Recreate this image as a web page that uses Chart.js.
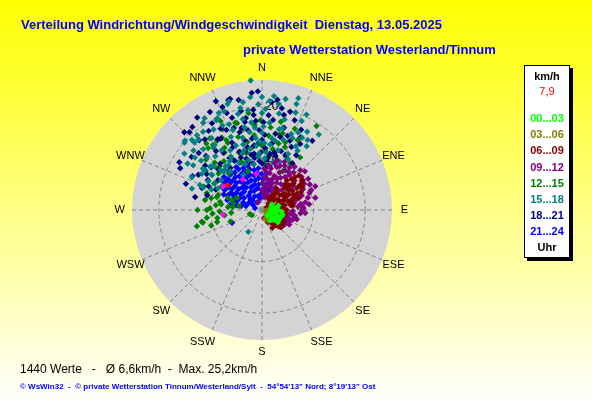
<!DOCTYPE html>
<html>
<head>
<meta charset="utf-8">
<title>Verteilung Windrichtung/Windgeschwindigkeit</title>
<script src="https://cdn.jsdelivr.net/npm/chart.js@4.4.1/dist/chart.umd.min.js"></script>
<style>
  html, body { margin: 0; padding: 0; }
  body { width: 592px; height: 407px; overflow: hidden; font-family: 'Liberation Sans', Arial, sans-serif; }
  #wrap { position: relative; width: 592px; height: 407px; background: linear-gradient(#ffff00, #ffffff); }
  #chart { position: absolute; left: 0; top: 0; }
  .txt { position: absolute; white-space: pre; line-height: 15px; }
  .title { font-size: 13px; font-weight: bold; color: #0000ff; }
  #legend { position: absolute; left: 524px; top: 65px; width: 44px; height: 191px; background: #fff;
            border: 1px solid #000; box-shadow: 3px 3px 0 #000; }
  #legend div { position: absolute; left: 0; width: 44px; text-align: center; font-size: 11px; line-height: 14px; font-weight: bold; }
  #foot1 { left: 20px; top: 362px; font-size: 12px; color: #000; }
  #foot2 { left: 20px; top: 379px; font-size: 8px; font-weight: bold; color: #0000ff; }
</style>
</head>
<body>
<div id="wrap">
  <canvas id="chart" width="592" height="407"></canvas>
  <div class="txt title" style="left:21px; top:17px;">Verteilung Windrichtung/Windgeschwindigkeit  Dienstag, 13.05.2025</div>
  <div class="txt title" style="left:243px; top:42px;">private Wetterstation Westerland/Tinnum</div>
  <div id="legend"></div>
  <div class="txt" id="foot1">1440 Werte   -   Ø 6,6km/h  -  Max. 25,2km/h</div>
  <div class="txt" id="foot2">© WsWin32  -  © private Wetterstation Tinnum/Westerland/Sylt  -  54°54'13" Nord; 8°19'13" Ost</div>
</div>
<script>
// compass and speed scale
var compassLabels = ['N', 'NNE', 'NE', 'ENE', 'E', 'ESE', 'SE', 'SSE',
                     'S', 'SSW', 'SW', 'WSW', 'W', 'WNW', 'NW', 'NNW'];
var ringValues = [10, 20];
var maxSpeed = 25.2;
var currentSpeed = '7,9';

// hour groups (legend), values are [direction in degrees, speed in km/h]
var hourGroups = ['00...03', '03...06', '06...09', '09...12', '12...15', '15...18', '18...21', '21...24'];
var groupColors = ['#00ff00', '#808000', '#800000', '#800080', '#008000', '#008080', '#000080', '#0000ff'];

var wind0003 = [[102,4.1],[119,3.8],[104,1.6],[81,2.5],[90,3.1],[125,2.4],[75,3.3],[95,3.8],[110,3.3],[130,3.0],
  [85,1.8],[115,2.0],[100,2.6],[135,1.5],[70,2.0],[128,3.9],[108,4.0],[92,2.0],[118,3.0],[80,3.0],[140,2.6],[60,2.2]];

var wind0306 = [[120,1.0],[140,1.3],[100,0.8],[160,1.8],[110,1.6],[130,2.0],[90,1.2],[150,2.4]];

var wind0609 = [[45,1.8],[60,1.0],[40,3.5],[50,4.5],[55,5.5],[45,6.2],[58,7.0],[40,7.5],[50,8.0],[65,8.3],
  [45,9.0],[55,9.5],[62,5.2],[42,6.8],[53,9.7],[58,8.0],[48,2.6],[55,3.6],[52,6.4],[60,6.0],
  [66,7.3],[48,7.2],[44,8.3],[62,3.8],[57,8.7],[47,9.8],[65,4.6],[50,3.0],[53,5.0],[60,9.0],
  [100,1.2],[140,1.5],[80,2.0],[115,2.2],[135,2.6],[95,3.0],[120,3.3],[140,3.6],[75,3.8],[105,4.0],
  [125,4.3],[90,4.8],[110,3.0],[70,3.2],[88,1.8],[128,4.0],[118,4.8],[145,3.0],[150,4.0],[135,4.5],
  [75,4.2],[128,5.0],[133,4.8],[85,4.0],[68,2.3],[78,4.5],[85,3.4],[92,2.5],[98,3.8],[105,2.9],
  [112,4.2],[122,2.8],[132,3.6],[142,2.2],[155,2.6],[165,1.6],[110,1.2],[100,4.6],[138,4.0],[72,5.3],
  [80,5.6],[70,6.5],[75,6.0],[35,3.2],[38,4.2],[35,5.0],[30,2.5],[72,7.5],[82,6.0],[64,6.8]];

var wind0912 = [[66,11.3],[75,9.2],[44,10.7],[37,10.5],[30,8.9],[126,2.6],[120,4.7],[85,7.0],[54,9.8],[3,3.3],
  [11,5.9],[12,7.3],[19,8.8],[333,1.7],[0,3.9],[25,10.3],[20,7.0],[15,5.0],[8,4.5],[5,6.5],
  [28,6.0],[35,7.8],[48,8.5],[60,9.0],[70,8.2],[80,8.5],[95,7.5],[100,6.5],[110,5.8],[105,7.0],
  [90,7.8],[62,10.5],[50,10.0],[40,9.5],[30,5.0],[22,3.0],[10,2.5],[50,3.0],[40,4.8],[55,6.8],
  [65,7.5],[25,8.0],[15,9.5],[8,8.8],[3,8.0],[118,6.0],[130,3.8],[98,4.5],[72,5.8],[45,5.5],
  [18,6.2],[24,4.6],[33,3.8],[42,6.5],[52,7.6],[57,5.0],[63,8.9],[68,10.3],[73,7.0],[78,6.3],
  [83,9.2],[88,8.0],[92,6.0],[97,5.5],[103,6.6],[108,6.2],[113,4.8],[116,5.6],[123,5.2],[127,4.4],
  [132,5.0],[48,11.2],[56,10.8],[35,9.0],[27,9.6],[22,9.2],[17,10.0],[12,8.2],[6,7.5],[2,5.3],
  [8,6.1],[14,3.6],[36,6.2],[47,7.0],[58,9.6],[70,9.8],[77,10.6],[86,8.0],[100,6.2],[68,6.6],
  [30,7.2],[33,9.8],[26,6.8],[20,5.4],[38,8.6],[29,4.2],[94,8.4],[106,5.2],[81,7.6],[122,4.0]];

var wind1215 = [[259,11.9],[262,10.8],[272,10.1],[286,9.1],[275,6.6],[284,5.8],[296,5.4],[262,7.3],[243,2.2],[107,3.2],
  [255,9.0],[268,8.2],[278,8.0],[265,6.0],[250,6.5],[290,7.0],[280,4.5],[270,12.5],[256,13.0],[300,9.0],
  [280,11.2],[287,11.2],[289,9.0],[281,8.3],[288,6.1],[276,5.7],[258,11.7],[270,10.7],[252,2.5],
  [327,16.0],[33,19.4],[15,15.4],[355,16.5],[344,17.5],[333,15.2],[323,15.8],[327,13.3],[330,11.2],[356,10.7],
  [17,10.1],[31,10.6],[343,17.7],[324,17.2],[338,12.0],[348,13.5],[0,12.5],[5,14.5],[10,12.0],[20,13.0],
  [22,17.0],[352,19.0],[335,19.0],[315,13.0],[310,11.0],[318,9.5],[345,11.5],[3,9.0],[340,8.0],[12,17.5],
  [28,8.5],[322,12.0],[13,15.0],[19,13.9],[3,11.6],[331,16.0],[333,14.6],[319,15.9],[313,11.9],
  [299,10.6],[305,13.3],[312,14.6],[316,11.8],[320,16.8],[329,14.1],[334,17.4],[337,10.1],[342,14.9],[347,16.1],
  [351,12.3],[354,14.6],[359,17.4],[6,16.1],[8,10.6],[14,13.3],[24,11.4],[27,15.2],[36,12.6],[292,12.1],
  [283,10.1],[276,9.0],[266,9.6],[260,8.8],[253,10.3]];

var wind1518 = [[355,25.2],[0,21.9],[350,21.2],[339,20.5],[348,20.2],[0,18.8],[334,19.8],[335,18.1],[319,19.2],[311,19.9],
  [318,18.4],[333,19.5],[6,22.2],[18,22.8],[19,20.0],[33,16.2],[23,15.1],[30,17.5],[322,15.3],[314,14.8],
  [310,13.1],[292,13.0],[212,5.0],[355,16.0],[355,14.0],[355,12.5],[357,11.0],[0,15.0],[2,13.0],[5,17.0],
  [10,19.0],[12,16.0],[8,14.0],[15,12.0],[25,12.0],[28,14.0],[340,16.5],[345,14.5],[343,12.0],[338,13.5],
  [330,12.0],[326,14.0],[325,17.0],[320,11.0],[315,10.5],[305,12.0],[300,10.5],[295,15.0],[302,17.0],[308,16.5],
  [345,10.0],[350,9.0],[340,9.5],[20,10.0],[13,9.5],[3,10.0],[348,18.0],[352,19.5],[358,20.5],[328,21.0],
  [323,19.0],[343,22.0],[315,18.5],[314,11.2],[305,11.8],[305,13.5],[332,7.7],[18,21.6],[12,22.0],[25,20.4],
  [25,16.6],[29,16.0],[14,16.4],[348,16.4],[315,19.2],[305,14.0],[291,12.3],[323,10.9],
  [296,9.5],[301,13.6],[306,9.8],[309,15.2],[312,12.7],[316,16.4],[319,13.8],[321,9.7],[324,15.6],[327,11.4],
  [329,18.2],[332,13.1],[334,10.3],[337,15.4],[339,17.8],[341,11.6],[344,13.2],[346,19.2],[349,12.1],[351,15.3],
  [353,17.1],[356,10.4],[358,13.3],[1,16.2],[2,19.6],[4,11.2],[7,12.8],[9,20.8],[11,13.6],[14,18.1],
  [17,14.2],[21,15.8],[24,18.9],[27,11.1],[31,13.4],[35,15.1],[37,18.3],[298,11.8],[303,15.9],[311,17.6],
  [317,10.6],[336,20.6],[354,22.0],[4,21.2],[342,21.6],[326,20.4],[312,20.1],[306,18.6],[292,10.6],[287,14.2]];

var wind1821 = [[355,22.8],[344,22.4],[348,21.8],[339,21.4],[332,21.5],[355,19.5],[355,18.5],[342,18.8],[350,18.1],[330,19.4],
  [346,16.4],[317,20.6],[318,18.2],[281,13.2],[290,12.4],[299,12.0],[343,22.3],[11,20.1],[13,18.9],[14,14.6],
  [25,13.5],[7,17.6],[0,13.6],[349,17.4],[344,15.7],[335,13.4],[5,21.0],[15,16.5],[20,18.5],[28,16.0],
  [3,12.0],[358,15.5],[352,14.0],[347,12.5],[338,11.0],[330,16.0],[326,18.5],[322,14.5],[312,16.5],[308,14.0],
  [303,12.8],[296,15.0],[300,18.5],[320,21.0],[336,17.0],[352,11.0],[357,9.5],[8,11.0],[18,12.0],[32,12.5],
  [10,15.0],[285,11.0],[294,9.8],[313,11.5],[340,20.0],[1,17.0],[22,14.5],[0,9.0],[5,8.2],[10,8.6],
  [345,9.6],[352,10.2],[15,9.4],
  [294,11.3],[299,14.1],[304,10.3],[307,17.1],[310,12.9],[314,15.1],[318,12.1],[321,17.6],[323,10.2],[326,13.4],
  [328,16.2],[331,10.9],[333,17.7],[336,14.3],[339,12.1],[341,16.8],[343,10.4],[346,13.9],[348,19.6],[350,15.7],
  [353,12.6],[356,17.3],[359,11.2],[2,14.6],[4,18.4],[6,10.1],[9,13.2],[12,11.4],[16,19.8],[19,15.2],
  [23,11.6],[26,17.3],[30,14.8],[33,10.8],[36,16.6],[289,15.6],[297,17.8],[315,21.3],[325,21.9],[337,22.9],
  [358,23.0],[8,21.6],[357,13.0],[349,10.9],[5,9.8],[14,10.8],[344,11.8],[328,11.9]];

var wind2124 = [[300,2.1],[328,1.8],[352,2.3],[315,2.6],
  [284,3.2],[299,2.9],[313,3.1],[331,3.0],[344,2.8],[358,3.2],[12,3.0],
  [281,4.1],[292,3.9],[304,4.2],[317,3.8],[327,4.1],[338,4.0],[349,4.3],[359,3.9],[9,4.1],[19,4.0],
  [280,5.0],[289,5.2],[298,4.9],[307,5.1],[316,5.0],[325,5.3],[334,4.9],[343,5.1],[352,5.0],[1,5.2],[10,4.9],[17,5.1],
  [282,6.1],[290,5.9],[297,6.2],[304,6.0],[312,6.1],[319,5.8],[326,6.2],[333,6.0],[340,6.1],[347,5.9],[354,6.2],[2,6.0],[9,6.1],[15,5.9],
  [286,7.0],[293,7.2],[299,6.9],[305,7.1],[311,7.0],[317,7.2],[323,6.9],[329,7.1],[335,7.0],[341,7.2],[347,6.9],[353,7.1],[359,7.0],[6,6.9],
  [292,8.0],[298,8.2],[304,7.9],[309,8.1],[315,8.0],[321,8.2],[326,7.9],[332,8.1],[337,8.0],[343,8.2],[349,7.9],[355,8.1],
  [301,9.0],[307,9.1],[312,8.9],[318,9.2],[324,9.0],[330,9.1],[336,8.9],[342,9.0],[349,9.2],
  [311,9.8],[320,9.9],[329,9.7],[335,10.1],[247,6.3],[286,1.4]];

var windMarked = [[301,8.8],[263,7.6],[328,7.0],[351,7.1]];
var windLatest = [[306,8.2]];

var hourSeries = [wind0003, wind0306, wind0609, wind0912, wind1215, wind1518, wind1821, wind2124];
// drawing order per hour group: lower is drawn on top
var hourOrder = [1, 2, 3, 4, 7, 5, 6, 8];

function toXY(list) {
    return list.map(function (p) {
        var a = p[0] * Math.PI / 180;
        return { x: p[1] * Math.sin(a), y: p[1] * Math.cos(a) };
    });
}

// legend box
var legend = document.getElementById('legend');
function addRow(text, color, top, bold) {
    var d = document.createElement('div');
    d.textContent = text;
    d.style.top = top + 'px';
    d.style.color = color;
    if (!bold) d.style.fontWeight = 'normal';
    legend.appendChild(d);
}
addRow('km/h', '#000', 3, true);
addRow(currentSpeed, '#ff0000', 18, false);
hourGroups.forEach(function (g, i) { addRow(g, groupColors[i], 45 + i * 16.2, true); });
addRow('Uhr', '#000', 174, true);

// polar grid drawn under the points
var polarGrid = {
    id: 'polarGrid',
    beforeDatasetsDraw: function (chart) {
        var ctx = chart.ctx, xs = chart.scales.x, ys = chart.scales.y;
        var cx = xs.getPixelForValue(0), cy = ys.getPixelForValue(0);
        var k = xs.getPixelForValue(1) - cx;
        var R = maxSpeed * k;
        ctx.save();
        ctx.fillStyle = '#d4d4d4';
        ctx.beginPath();
        ctx.arc(cx, cy, R, 0, 2 * Math.PI);
        ctx.fill();

        ctx.strokeStyle = '#858585';
        ctx.lineWidth = 1;
        ctx.setLineDash([4, 3]);
        ringValues.forEach(function (v) {
            ctx.beginPath();
            ctx.arc(cx, cy, v * k, 0, 2 * Math.PI);
            ctx.stroke();
        });
        compassLabels.forEach(function (lbl, i) {
            var a = i * 22.5 * Math.PI / 180;
            ctx.beginPath();
            ctx.moveTo(cx, cy);
            ctx.lineTo(cx + R * Math.sin(a), cy - R * Math.cos(a));
            ctx.stroke();
        });
        ctx.setLineDash([]);

        ctx.fillStyle = '#000';
        ctx.font = "11px 'Liberation Sans', Arial, sans-serif";
        ctx.textAlign = 'center';
        ctx.textBaseline = 'middle';
        var rl = 27.6 * k;
        compassLabels.forEach(function (lbl, i) {
            var a = i * 22.5 * Math.PI / 180;
            var shift = 0;
            if ((i % 4 === 1 || i % 4 === 3) && Math.abs(Math.sin(a)) < 0.5) {
                shift = 5 * Math.sign(Math.sin(a));
            }
            ctx.fillText(lbl, cx + rl * Math.sin(a) + shift, cy - rl * Math.cos(a));
        });
        ctx.textAlign = 'left';
        ctx.font = "12px 'Liberation Sans', Arial, sans-serif";
        ringValues.forEach(function (v) {
            ctx.fillText(String(v), cx + 3, cy - v * k);
        });
        ctx.restore();
    }
};

var datasets = [
    { data: toXY(windLatest), backgroundColor: '#ff0000', order: 0 },
    { data: toXY(windMarked), backgroundColor: '#ff00ff', order: 0 }
];
hourSeries.forEach(function (s, i) {
    datasets.push({ label: hourGroups[i], data: toXY(s), backgroundColor: groupColors[i], order: hourOrder[i] });
});
datasets.forEach(function (d) { d.clip = false; });

new Chart(document.getElementById('chart'), {
    type: 'scatter',
    data: { datasets: datasets },
    options: {
        responsive: false,
        animation: false,
        devicePixelRatio: 1,
        layout: { padding: { left: 132, right: 200, top: 80, bottom: 67 } },
        elements: { point: { pointStyle: 'rectRot', radius: 3.2, borderWidth: 0, hoverRadius: 3.2 } },
        scales: {
            x: { type: 'linear', min: -maxSpeed, max: maxSpeed, display: false },
            y: { type: 'linear', min: -maxSpeed, max: maxSpeed, display: false }
        },
        plugins: { legend: { display: false }, tooltip: { enabled: false } }
    },
    plugins: [polarGrid]
});
</script>
</body>
</html>
